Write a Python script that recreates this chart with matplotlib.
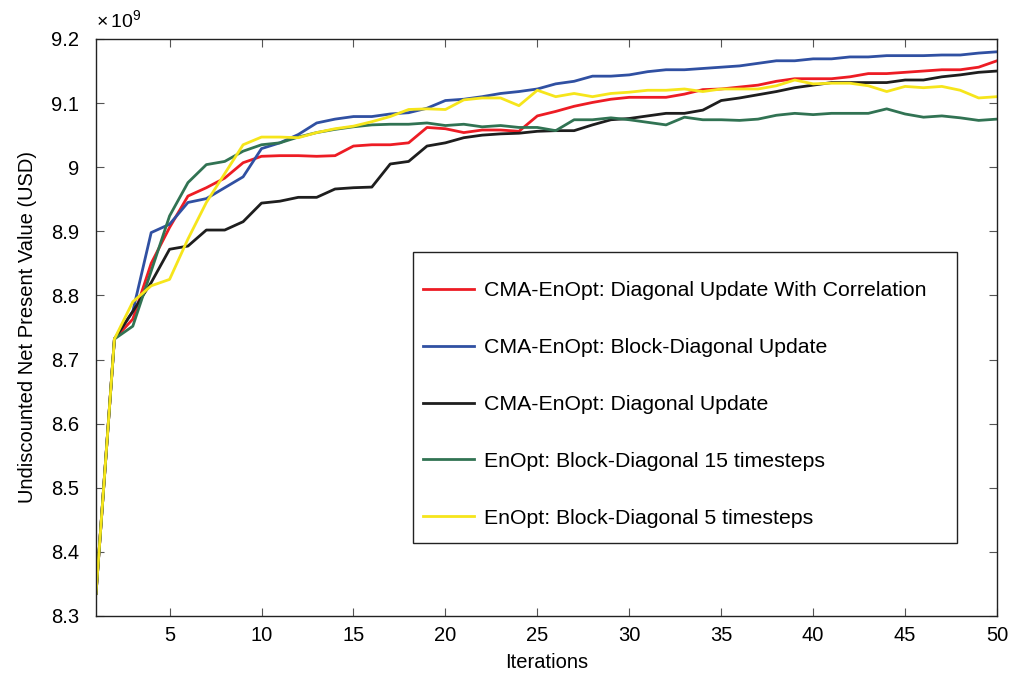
import matplotlib
matplotlib.use('Agg')
import matplotlib.pyplot as plt
from matplotlib.patches import Rectangle

plt.rcParams['font.family'] = ['Liberation Sans', 'DejaVu Sans']
plt.rcParams['mathtext.fontset'] = 'custom'
plt.rcParams['mathtext.rm'] = 'Liberation Sans'

# NPV per iteration, in units of 1e9 USD
iterations = list(range(1, 51))

npv_cma_diag_corr = [
    8.335, 8.732, 8.763, 8.850, 8.906, 8.955, 8.968, 8.983, 9.007, 9.017,
    9.018, 9.018, 9.017, 9.018, 9.033, 9.035, 9.035, 9.038, 9.062, 9.060,
    9.054, 9.058, 9.058, 9.056, 9.080, 9.087, 9.095, 9.101, 9.106, 9.109,
    9.109, 9.109, 9.114, 9.121, 9.122, 9.125, 9.128, 9.134, 9.138, 9.138,
    9.138, 9.141, 9.146, 9.146, 9.148, 9.150, 9.152, 9.152, 9.156, 9.166]

npv_cma_block_diag = [
    8.335, 8.732, 8.775, 8.898, 8.911, 8.945, 8.951, 8.968, 8.985, 9.029,
    9.038, 9.051, 9.069, 9.075, 9.079, 9.079, 9.083, 9.085, 9.092, 9.104,
    9.106, 9.110, 9.115, 9.118, 9.122, 9.130, 9.134, 9.142, 9.142, 9.144,
    9.149, 9.152, 9.152, 9.154, 9.156, 9.158, 9.162, 9.166, 9.166, 9.169,
    9.169, 9.172, 9.172, 9.174, 9.174, 9.174, 9.175, 9.175, 9.178, 9.180]

npv_cma_diag = [
    8.335, 8.732, 8.775, 8.820, 8.872, 8.877, 8.902, 8.902, 8.915, 8.944,
    8.947, 8.953, 8.953, 8.966, 8.968, 8.969, 9.005, 9.009, 9.033, 9.038,
    9.046, 9.050, 9.052, 9.053, 9.056, 9.057, 9.057, 9.066, 9.074, 9.076,
    9.080, 9.084, 9.084, 9.089, 9.104, 9.108, 9.113, 9.118, 9.124, 9.128,
    9.132, 9.132, 9.132, 9.132, 9.136, 9.136, 9.141, 9.144, 9.148, 9.150]

npv_enopt_block15 = [
    8.335, 8.732, 8.752, 8.838, 8.924, 8.976, 9.004, 9.009, 9.025, 9.035,
    9.038, 9.047, 9.054, 9.059, 9.063, 9.066, 9.067, 9.067, 9.069, 9.065,
    9.067, 9.063, 9.065, 9.062, 9.062, 9.057, 9.074, 9.074, 9.077, 9.074,
    9.070, 9.066, 9.078, 9.074, 9.074, 9.073, 9.075, 9.081, 9.084, 9.082,
    9.084, 9.084, 9.084, 9.091, 9.083, 9.078, 9.080, 9.077, 9.073, 9.075]

npv_enopt_block5 = [
    8.335, 8.732, 8.790, 8.815, 8.825, 8.888, 8.945, 8.990, 9.035, 9.047,
    9.047, 9.046, 9.054, 9.060, 9.064, 9.071, 9.079, 9.090, 9.091, 9.090,
    9.105, 9.108, 9.108, 9.096, 9.120, 9.110, 9.115, 9.110, 9.115, 9.117,
    9.120, 9.120, 9.122, 9.118, 9.122, 9.122, 9.122, 9.127, 9.136, 9.130,
    9.131, 9.131, 9.127, 9.118, 9.126, 9.124, 9.126, 9.120, 9.108, 9.110]

series = [
    ('CMA-EnOpt: Diagonal Update With Correlation', npv_cma_diag_corr, '#ed1c24'),
    ('CMA-EnOpt: Block-Diagonal Update', npv_cma_block_diag, '#3050a2'),
    ('CMA-EnOpt: Diagonal Update', npv_cma_diag, '#1e1e1e'),
    ('EnOpt: Block-Diagonal 15 timesteps', npv_enopt_block15, '#317353'),
    ('EnOpt: Block-Diagonal 5 timesteps', npv_enopt_block5, '#f6e51b'),
]

y_ticks = [8.3, 8.4, 8.5, 8.6, 8.7, 8.8, 8.9, 9.0, 9.1, 9.2]
y_tick_labels = ['8.3', '8.4', '8.5', '8.6', '8.7', '8.8', '8.9', '9', '9.1', '9.2']
x_ticks = [5, 10, 15, 20, 25, 30, 35, 40, 45, 50]

fig = plt.figure(figsize=(10.15, 6.79), dpi=100)
ax = fig.add_axes([0.0946, 0.0928, 0.8877, 0.8498])

for label, values, color in series:
    ax.plot(iterations, values, color=color, linewidth=2.0, label=label)

ax.set_xlim(1, 50)
ax.set_ylim(8.3, 9.2)
ax.set_xticks(x_ticks)
ax.set_yticks(y_ticks)
ax.set_yticklabels(y_tick_labels)
ax.tick_params(direction='in', top=True, right=True, length=6, width=0.8,
               labelsize=14.5, color='#555555')
ax.tick_params(axis='y', pad=12)
ax.tick_params(axis='x', pad=7)
for sp in ax.spines.values():
    sp.set_linewidth(1.0)
    sp.set_color('#222222')

ax.set_xlabel('Iterations', fontsize=14.5, labelpad=6)
ax.set_ylabel('Undiscounted Net Present Value (USD)', fontsize=14.5, labelpad=10)
ax.text(0.0, 1.012, r'$\times\,10^{9}$', transform=ax.transAxes,
        fontsize=14, ha='left', va='bottom')

# legend box drawn as a separate frame so the padding can differ per side
ax.add_patch(Rectangle((0.352, 0.127), 0.604, 0.504, transform=ax.transAxes,
                       facecolor='white', edgecolor='#222222', linewidth=1.0,
                       zorder=4))
leg = ax.legend(loc='upper left', bbox_to_anchor=(0.363, 0.580),
                fontsize=15.3, handlelength=2.4, handletextpad=0.45,
                labelspacing=1.78, borderpad=0, borderaxespad=0, frameon=False)
leg.set_zorder(5)

fig.savefig('out.png', dpi=100)
